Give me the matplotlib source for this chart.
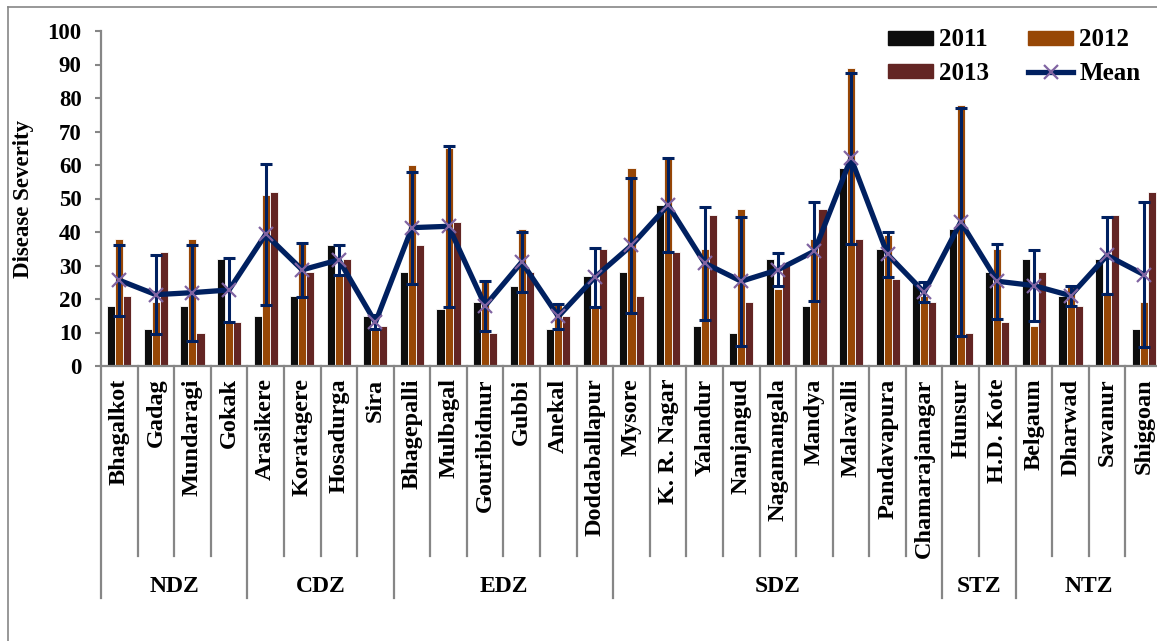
import numpy as np
import matplotlib
matplotlib.use("Agg")
import matplotlib.pyplot as plt
import matplotlib.transforms as mtransforms
from matplotlib.patches import Rectangle
from matplotlib.lines import Line2D

plt.rcParams["font.family"] = ["Liberation Serif", "DejaVu Serif"]
plt.rcParams["font.weight"] = "bold"
plt.rcParams["axes.labelweight"] = "bold"

# data
places = ["Bhagalkot", "Gadag", "Mundaragi", "Gokak",
          "Arasikere", "Koratagere", "Hosadurga", "Sira",
          "Bhagepalli", "Mulbagal", "Gouribidnur", "Gubbi", "Anekal", "Doddaballapur",
          "Mysore", "K. R. Nagar", "Yalandur", "Nanjangud", "Nagamangala", "Mandya",
          "Malavalli", "Pandavapura", "Chamarajanagar",
          "Hunsur", "H.D. Kote",
          "Belgaum", "Dharwad", "Savanur", "Shiggoan"]
zones = ["NDZ", "CDZ", "EDZ", "SDZ", "STZ", "NTZ"]
zone_sizes = [4, 4, 6, 9, 2, 4]

y2011 = [18, 11, 18, 32, 15, 21, 36, 15, 28, 17, 19, 24, 11, 27,
         28, 48, 12, 10, 32, 18, 59, 35, 25, 41, 28, 32, 21, 32, 11]
y2012 = [38, 19, 38, 13, 51, 37, 27, 11, 60, 65, 25, 41, 18.5, 17.5,
         59, 62, 35, 47, 23, 38, 89, 39, 21, 78, 35, 12, 24, 22, 19]
y2013 = [21, 34, 10, 13, 52, 28, 32, 12, 36, 43, 10, 28, 15, 35,
         21, 34, 45, 19, 31, 47, 38, 26, 19, 10, 13, 28, 18, 45, 52]
mean = [25.6, 21.3, 21.9, 22.7, 39.3, 28.7, 31.7, 13.0, 41.3, 41.7, 18.0, 31.0, 14.8, 26.5,
        36.0, 48.0, 30.7, 25.3, 28.7, 34.3, 62.0, 33.3, 22.0, 43.0, 25.3, 24.0, 21.0, 33.0, 27.3]
sd = [10.6, 11.7, 14.3, 9.6, 21.1, 8.0, 4.5, 2.1, 16.7, 24.0, 7.5, 8.9, 3.8, 8.8,
      20.2, 14.0, 16.9, 19.3, 4.9, 14.8, 25.6, 6.7, 3.0, 34.0, 11.2, 10.6, 3.0, 11.5, 21.7]

c2011 = "#0d0d0d"
c2012 = "#974706"
c2013 = "#632523"
cmean = "#002060"
cmark = "#8064a2"
grey = "#868686"

W, H = 1157, 641
fig = plt.figure(figsize=(W / 100, H / 100), dpi=100)
ax = fig.add_axes([101 / W, (H - 366) / H, 1061 / W, 335 / H])

x = np.arange(len(places))
bw = 0.22
ax.bar(x - bw, y2011, bw, color=c2011, edgecolor="white", lw=0.6, zorder=2)
ax.bar(x, y2012, bw, color=c2012, edgecolor="white", lw=0.6, zorder=2)
ax.bar(x + bw, y2013, bw, color=c2013, edgecolor="white", lw=0.6, zorder=2)
ax.errorbar(x, mean, yerr=sd, fmt="none", ecolor=cmean, elinewidth=2.2,
            capsize=4.5, capthick=2.2, zorder=3)
ax.plot(x, mean, "-", color=cmean, lw=3.8, zorder=4)
ax.plot(x, mean, "x", color=cmark, ms=10, mew=1.6, zorder=5)

ax.set_xlim(-0.5, len(places) - 0.5)
ax.set_ylim(0, 100)
ax.set_yticks(np.arange(0, 101, 10))
ax.tick_params(axis="y", direction="out", length=4, width=1.5, color=grey,
               labelsize=16.5, pad=10)
ax.set_xticks(x, places, rotation=90, fontsize=17.5)
ax.tick_params(axis="x", length=0, pad=9)
for s in ["top", "right"]:
    ax.spines[s].set_visible(False)
for s in ["left", "bottom"]:
    ax.spines[s].set_color(grey)
    ax.spines[s].set_linewidth(1.6)

ax.set_ylabel("Disease Severity", fontsize=16.5)
ax.yaxis.set_label_coords(-67 / 1061, 0.5)

# category separators and zone labels under the axis
trans = mtransforms.blended_transform_factory(ax.transData, ax.transAxes)
inner_end = -(556 - 366) / 335
outer_end = -(598 - 366) / 335
edges = np.cumsum([0] + zone_sizes)
for i in range(len(places) + 1):
    low = outer_end if i in edges else inner_end
    ax.plot([i - 0.5, i - 0.5], [0, low], color=grey, lw=1.6,
            transform=trans, clip_on=False)
for z, a, b in zip(zones, edges[:-1], edges[1:]):
    ax.text((a + b - 1) / 2, -(586 - 366) / 335, z, transform=trans,
            ha="center", va="center", fontsize=17)

handles = [Rectangle((0, 0), 1, 1, color=c2011), Rectangle((0, 0), 1, 1, color=c2013),
           Rectangle((0, 0), 1, 1, color=c2012),
           Line2D([], [], color=cmean, lw=3.8, marker="x", ms=10, mec=cmark, mew=1.6)]
labels = ["2011", "2013", "2012", "Mean"]
fig.legend(handles, labels, ncol=2, loc="upper left", bbox_to_anchor=(870 / W, 1 - 11 / H),
           frameon=False, fontsize=18, handlelength=1.8, handleheight=0.5,
           handletextpad=0.25, columnspacing=1.58, labelspacing=0.42, borderpad=0.2)

# outer chart frame
fig.add_artist(Line2D([8 / W, 8 / W], [0, 1 - 7 / H], color=grey, lw=1.2))
fig.add_artist(Line2D([8 / W, 1], [1 - 7 / H, 1 - 7 / H], color=grey, lw=1.2))

fig.savefig("out.png", dpi=100)
